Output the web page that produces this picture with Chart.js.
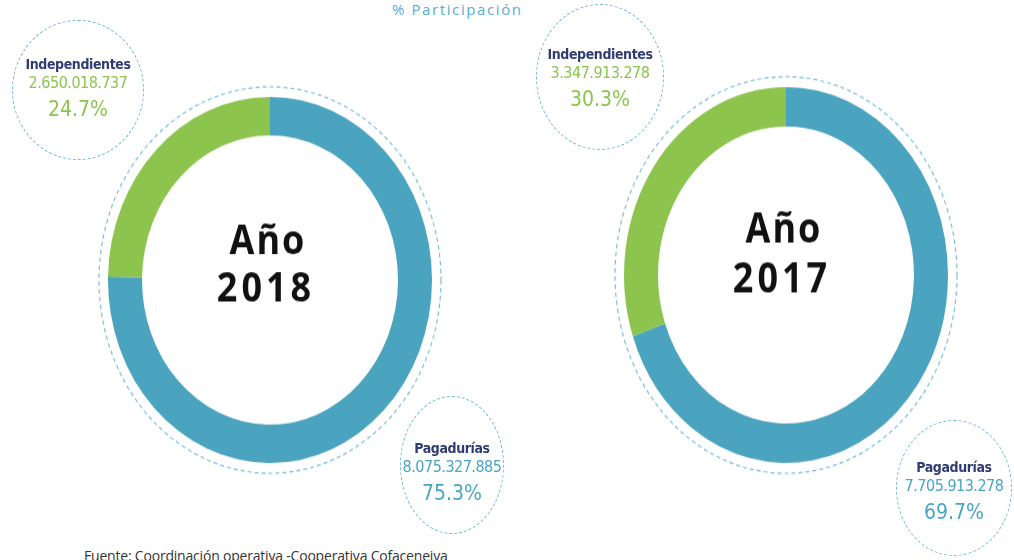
<!DOCTYPE html>
<html>
<head>
<meta charset="utf-8">
<script src="https://cdn.jsdelivr.net/npm/chart.js@4/dist/chart.umd.min.js"></script>
<style>
  html, body { margin:0; padding:0; background:#fff; }
  body { width:1014px; height:560px; position:relative; overflow:hidden; font-family:"DejaVu Sans Condensed","Open Sans",sans-serif; }
  .title { position:absolute; left:392px; top:-1px; font-size:15px; letter-spacing:1.6px; color:#5aaed2; font-family:"Open Sans",sans-serif; }
  .wrap { position:absolute; width:350px; height:350px; transform-origin:50% 50%; }
  .bubble { position:absolute; border:1.5px dashed #6db9d9; border-radius:50%; text-align:center; box-sizing:border-box; }
  .bubble .name { color:#2f3d73; font-size:14px; font-weight:bold; letter-spacing:-0.4px; line-height:18px; }
  .bubble .amt { font-size:16px; letter-spacing:-0.5px; line-height:20px; }
  .bubble .pct { font-size:21px; margin-top:3px; line-height:26px; }
  .green { color:#8cc44e; }
  .blue { color:#4aa5c2; }
  .src { position:absolute; left:84px; top:546px; font-size:14px; color:#333; font-family:"Open Sans",sans-serif; letter-spacing:-0.2px; }
</style>
</head>
<body>
<div class="title">% Participación</div>

<div class="wrap" id="w2018" style="left:95px; top:105px; transform:scaleY(1.13);"><canvas id="c2018"></canvas></div>
<div class="wrap" id="w2017" style="left:611px; top:100px; transform:scaleY(1.16);"><canvas id="c2017"></canvas></div>

<div class="bubble" style="left:12px; top:20px; width:132px; height:140px;">
  <div style="margin-top:34px" class="name" id="b18i-n"></div>
  <div class="amt green" id="b18i-a"></div>
  <div class="pct green" id="b18i-p"></div>
</div>
<div class="bubble" style="left:400px; top:396px; width:104px; height:138px;">
  <div style="margin-top:42px" class="name" id="b18p-n"></div>
  <div class="amt blue" id="b18p-a"></div>
  <div class="pct blue" id="b18p-p"></div>
</div>
<div class="bubble" style="left:536px; top:4px; width:128px; height:146px;">
  <div style="margin-top:40px" class="name" id="b17i-n"></div>
  <div class="amt green" id="b17i-a"></div>
  <div class="pct green" id="b17i-p"></div>
</div>
<div class="bubble" style="left:896px; top:420px; width:116px; height:136px;">
  <div style="margin-top:37px" class="name" id="b17p-n"></div>
  <div class="amt blue" id="b17p-a"></div>
  <div class="pct blue" id="b17p-p"></div>
</div>

<div class="src">Fuente: Coordinación operativa -Cooperativa Cofaceneiva</div>

<script>
const categories = ['Pagadurías', 'Independientes'];
const years = ['2018', '2017'];
const values2018 = [8075327885, 2650018737];
const values2017 = [7705913278, 3347913278];
const pct2018 = [75.3, 24.7];
const pct2017 = [69.7, 30.3];
const colors = ['#4ba4bf', '#8dc44e'];

function fmt(n){ return String(n).replace(/\B(?=(\d{3})+(?!\d))/g, '.'); }

// center text + dashed ring around the doughnut
const decor = {
  id: 'decor',
  afterDraw(chart, args, opts){
    const arc = chart.getDatasetMeta(0).data[0];
    const { x, y, outerRadius } = arc.getProps(['x','y','outerRadius'], true);
    const ctx = chart.ctx;
    ctx.save();
    ctx.strokeStyle = '#7cc0dc';
    ctx.lineWidth = 1.2;
    ctx.setLineDash([4, 3]);
    ctx.beginPath();
    ctx.arc(x, y, outerRadius + 9, 0, Math.PI * 2);
    ctx.stroke();
    ctx.setLineDash([]);
    ctx.fillStyle = '#111';
    ctx.textAlign = 'center';
    ctx.textBaseline = 'middle';
    ctx.font = 'bold 36px "Open Sans", sans-serif';
    ctx.letterSpacing = '2px';
    ctx.fillText('Año', x - 2, y + opts.dy[0]);
    ctx.letterSpacing = '4px';
    ctx.fillText(opts.year, x - 4, y + opts.dy[1]);
    ctx.restore();
  }
};

function makeChart(id, values, year, dy){
  return new Chart(document.getElementById(id), {
    type: 'doughnut',
    data: { labels: categories, datasets: [{ data: values, backgroundColor: colors, borderWidth: 0, hoverOffset: 0 }] },
    options: {
      responsive: true, maintainAspectRatio: false, animation: false,
      cutout: '79%',
      layout: { padding: 13 },
      events: [],
      plugins: { legend: { display: false }, tooltip: { enabled: false }, decor: { year, dy } }
    },
    plugins: [decor]
  });
}

makeChart('c2018', values2018, years[0], [-33, 9]);
makeChart('c2017', values2017, years[1], [-38, 5]);

function fillBubble(prefix, name, amount, pct){
  document.getElementById(prefix + '-n').textContent = name;
  document.getElementById(prefix + '-a').textContent = fmt(amount);
  document.getElementById(prefix + '-p').textContent = pct.toFixed(1) + '%';
}
fillBubble('b18i', categories[1], values2018[1], pct2018[1]);
fillBubble('b18p', categories[0], values2018[0], pct2018[0]);
fillBubble('b17i', categories[1], values2017[1], pct2017[1]);
fillBubble('b17p', categories[0], values2017[0], pct2017[0]);
</script>
</body>
</html>
